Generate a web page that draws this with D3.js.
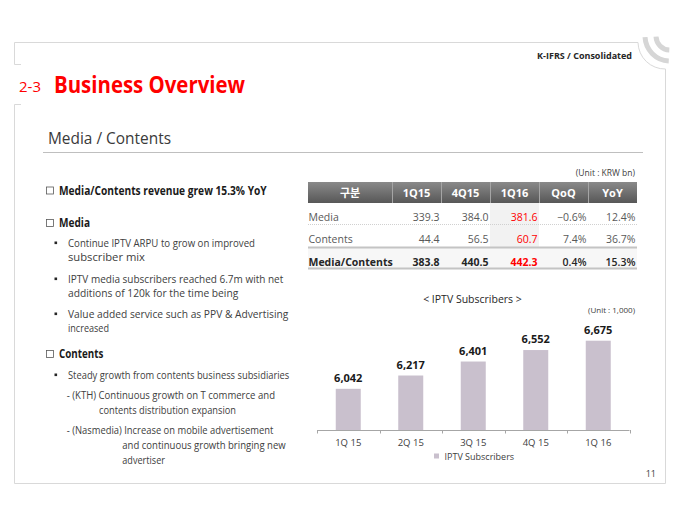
<!DOCTYPE html>
<html>
<head>
<meta charset="utf-8">
<script src="https://cdn.jsdelivr.net/npm/d3@7"></script>
<style>
  html, body { margin: 0; padding: 0; background: #fff; }
  svg { display: block; font-family: 'Open Sans', 'Noto Sans CJK KR', sans-serif; }
</style>
</head>
<body>
<svg id="chart" width="680" height="525"></svg>
<script>
// ---------- DATA ----------
const categories = ["1Q 15", "2Q 15", "3Q 15", "4Q 15", "1Q 16"];
const subscribers = [6042, 6217, 6401, 6552, 6675];
const seriesName = "IPTV Subscribers";

const tableHeaders = ["구분", "1Q15", "4Q15", "1Q16", "QoQ", "YoY"];
const rowLabels = ["Media", "Contents", "Media/Contents"];
const values1Q15 = [339.3, 44.4, 383.8];
const values4Q15 = [384.0, 56.5, 440.5];
const values1Q16 = [381.6, 60.7, 442.3];
const qoqValues = [-0.6, 7.4, 0.4];
const yoyValues = [12.4, 36.7, 15.3];

const bodyLines = [
  "Media/Contents revenue grew 15.3% YoY",
  "Media",
  "Continue IPTV ARPU to grow on improved",
  "subscriber mix",
  "IPTV media subscribers reached 6.7m with net",
  "additions of 120k for the time being",
  "Value added service such as PPV & Advertising",
  "increased",
  "Contents",
  "Steady growth from contents business subsidiaries",
  "- (KTH) Continuous growth on T commerce and",
  "contents distribution expansion",
  "- (Nasmedia) Increase on mobile advertisement",
  "and continuous growth bringing new",
  "advertiser"
];

// ---------- LAYOUT ----------
const svg = d3.select("#chart");
const frameColor = "#d9d9d9";
const textDark = "#404040";

svg.append("rect").attr("width", 680).attr("height", 525).attr("fill", "#fff");

// page frame
const frame = svg.append("g").attr("fill", "none").attr("stroke", frameColor).attr("stroke-width", 1);
frame.append("path").attr("d", "M14.5,64.5 L14.5,42.5 L638,42.5 A27,27 0 0 0 665.5,69 L665.5,483.5 L14.5,483.5 L14.5,104.5");
frame.append("path").attr("d", "M14.5,64.5 L21,64.5 M14.5,104.5 L21,104.5");
// decorative arcs top-right
const deco = svg.append("g").attr("fill", "none").attr("stroke", "#d6d6d6").attr("stroke-width", 5);
[14, 25].forEach(r => {
  const p = d3.path();
  p.arc(670, 36, r, Math.PI / 2 + 0.05, Math.PI - 0.05);
  deco.append("path").attr("d", p.toString());
});

// header texts
svg.append("text").attr("x", 632).attr("y", 58.5).attr("text-anchor", "end")
  .attr("font-size", 9).attr("font-weight", 700).attr("fill", "#262626").text("K-IFRS / Consolidated");
svg.append("text").attr("x", 19).attr("y", 92).attr("font-size", 15).attr("fill", "#ff0000").text("2-3");
svg.append("text").attr("x", 54).attr("y", 93).attr("font-size", 23).attr("font-weight", 700)
  .attr("fill", "#ff0000").attr("textLength", 191).attr("lengthAdjust", "spacingAndGlyphs").text("Business Overview");
svg.append("text").attr("x", 48).attr("y", 144).attr("font-size", 16.5).attr("fill", "#3a3a3a")
  .attr("textLength", 123).attr("lengthAdjust", "spacingAndGlyphs").text("Media / Contents");
svg.append("line").attr("x1", 43).attr("x2", 643).attr("y1", 152.5).attr("y2", 152.5)
  .attr("stroke", "#bfbfbf").attr("stroke-width", 1);

// left body text
const lineLayout = [
  {x: 59, y: 194.5, r: 266.7, bold: true, box: true},
  {x: 59, y: 227, r: 90, bold: true, box: true},
  {x: 68, y: 247, r: 255, bullet: true},
  {x: 68, y: 261, r: 145},
  {x: 68, y: 283, r: 283.3, bullet: true},
  {x: 68, y: 297, r: 238.3},
  {x: 68, y: 318, r: 288.3, bullet: true},
  {x: 68, y: 332, r: 109},
  {x: 59, y: 358, r: 103.3, bold: true, box: true},
  {x: 68, y: 379, r: 289.3, bullet: true},
  {x: 66.7, y: 399, r: 275},
  {x: 99, y: 414, r: 236},
  {x: 66.7, y: 434, r: 273.3},
  {x: 122.3, y: 449, r: 285.7},
  {x: 122.3, y: 464, r: 165}
];
const body = svg.append("g");
bodyLines.forEach((t, i) => {
  const L = lineLayout[i];
  body.append("text").attr("x", L.x).attr("y", L.y)
    .attr("font-size", L.bold ? 12 : 11)
    .attr("font-weight", L.bold ? 700 : 400)
    .attr("fill", L.bold ? "#1a1a1a" : textDark)
    .attr("textLength", L.r - L.x).attr("lengthAdjust", "spacingAndGlyphs")
    .text(t);
  if (L.box) {
    body.append("rect").attr("x", 46.5).attr("y", L.y - 7.5).attr("width", 7).attr("height", 7)
      .attr("fill", "none").attr("stroke", "#595959").attr("stroke-width", 0.8);
  }
  if (L.bullet) {
    body.append("rect").attr("x", 54.5).attr("y", L.y - 5.5).attr("width", 2.6).attr("height", 2.6)
      .attr("fill", "#262626");
  }
});

// ---------- TABLE ----------
const table = svg.append("g");
svg.append("text").attr("x", 635).attr("y", 176).attr("text-anchor", "end")
  .attr("font-size", 8.5).attr("fill", textDark).text("(Unit : KRW bn)");

const defs = svg.append("defs");
const grad = defs.append("linearGradient").attr("id", "hdr").attr("x1", 0).attr("y1", 0).attr("x2", 0).attr("y2", 1);
grad.append("stop").attr("offset", "0%").attr("stop-color", "#8a8a8a");
grad.append("stop").attr("offset", "100%").attr("stop-color", "#575757");

const colScale = d3.scaleBand().domain(tableHeaders.slice(1)).range([392, 637]).padding(0);
const colLeft = h => h === tableHeaders[0] ? 308 : colScale(h);
const colWidth = h => h === tableHeaders[0] ? 84 : colScale.bandwidth();

const hdrTop = 182, hdrBottom = 203;
table.append("rect").attr("x", 308).attr("y", hdrTop).attr("width", 329).attr("height", hdrBottom - hdrTop)
  .attr("fill", "url(#hdr)");
tableHeaders.slice(1).forEach(h => {
  table.append("line").attr("x1", colLeft(h) + 0.5).attr("x2", colLeft(h) + 0.5)
    .attr("y1", hdrTop).attr("y2", hdrBottom).attr("stroke", "#a5a5a5").attr("stroke-width", 1);
});
tableHeaders.forEach(h => {
  table.append("text").attr("x", colLeft(h) + colWidth(h) / 2).attr("y", 196.5)
    .attr("text-anchor", "middle").attr("font-size", 11).attr("font-weight", 700)
    .attr("fill", "#fff").text(h);
});

// 1Q16 column shading & total row
table.append("rect").attr("x", colScale("1Q16")).attr("y", hdrBottom).attr("width", colScale.bandwidth())
  .attr("height", 44).attr("fill", "#f2f2f2");
table.append("rect").attr("x", 308).attr("y", 248).attr("width", 329).attr("height", 20).attr("fill", "#f7f7f7");

const rowY = d3.scalePoint().domain(rowLabels).range([221, 265.5]);
table.append("line").attr("x1", 308).attr("x2", 637).attr("y1", 224.5).attr("y2", 224.5)
  .attr("stroke", "#d0d0d0").attr("stroke-dasharray", "1,1");
table.append("line").attr("x1", 308).attr("x2", 637).attr("y1", 247.5).attr("y2", 247.5)
  .attr("stroke", "#c4c4c4").attr("stroke-width", 2);
table.append("line").attr("x1", 308).attr("x2", 637).attr("y1", 268.5).attr("y2", 268.5)
  .attr("stroke", "#c4c4c4").attr("stroke-width", 2);

const fmt1 = d3.format(".1f");
const pct = v => d3.format(".1f")(v) + "%";
const columnData = [
  {h: "1Q15", vals: values1Q15, f: fmt1},
  {h: "4Q15", vals: values4Q15, f: fmt1},
  {h: "1Q16", vals: values1Q16, f: fmt1, red: true},
  {h: "QoQ", vals: qoqValues, f: pct},
  {h: "YoY", vals: yoyValues, f: pct}
];
rowLabels.forEach((r, i) => {
  const isTotal = i === rowLabels.length - 1;
  table.append("text").attr("x", 308.5).attr("y", rowY(r))
    .attr("font-size", 10.5).attr("font-weight", isTotal ? 700 : 400)
    .attr("fill", isTotal ? "#262626" : "#595959").text(r);
  columnData.forEach(c => {
    table.append("text").attr("x", colScale(c.h) + colScale.bandwidth() - 1.5).attr("y", rowY(r))
      .attr("text-anchor", "end").attr("font-size", 10.5)
      .attr("font-weight", isTotal && c.h !== "QoQ" && c.h !== "YoY" ? 700 : (isTotal ? 600 : 400))
      .attr("fill", c.red ? "#ff0000" : (isTotal ? "#262626" : "#595959"))
      .text(c.f(c.vals[i]));
  });
});

// ---------- BAR CHART ----------
const chart = svg.append("g");
chart.append("text").attr("x", 472.5).attr("y", 303).attr("text-anchor", "middle")
  .attr("font-size", 10.5).attr("fill", "#262626").text("< " + seriesName + " >");
chart.append("text").attr("x", 635).attr("y", 313).attr("text-anchor", "end")
  .attr("font-size", 8).attr("fill", textDark).text("(Unit : 1,000)");

const x = d3.scaleBand().domain(categories).range([317, 629.5]).paddingInner(0.6).paddingOuter(0.3);
const xBound = d3.scaleBand().domain(categories).range([317, 629.5]).padding(0);
const y = d3.scaleLinear().domain([5500, 7000]).range([430, 316]);
const barColor = "#c9c0cd";

chart.selectAll("rect.bar").data(subscribers).join("rect").attr("class", "bar")
  .attr("x", (d, i) => x(categories[i])).attr("width", x.bandwidth())
  .attr("y", d => y(d)).attr("height", d => y(5500) - y(d)).attr("fill", barColor);

chart.selectAll("text.val").data(subscribers).join("text").attr("class", "val")
  .attr("x", (d, i) => x(categories[i]) + x.bandwidth() / 2).attr("y", d => y(d) - 7)
  .attr("text-anchor", "middle").attr("font-size", 11).attr("font-weight", 700)
  .attr("fill", "#1a1a1a").text(d => d3.format(",")(d));

const axis = chart.append("g").attr("transform", "translate(0,430)")
  .call(d3.axisBottom(x).tickSize(0).tickPadding(9.7));
axis.select(".domain").attr("stroke", "#a6a6a6").attr("d", "M317,0.5H629.5");
axis.selectAll("text").attr("font-size", 9.5).attr("fill", textDark)
  .attr("font-family", "'Open Sans', sans-serif");
const bounds = categories.map(c => xBound(c)).concat([629.5]);
chart.selectAll("line.tk").data(bounds).join("line").attr("class", "tk")
  .attr("x1", d => Math.round(d) + 0.5).attr("x2", d => Math.round(d) + 0.5)
  .attr("y1", 430).attr("y2", 433.5).attr("stroke", "#a6a6a6");

// legend
chart.append("rect").attr("x", 434).attr("y", 453.5).attr("width", 5).attr("height", 5).attr("fill", barColor);
chart.append("text").attr("x", 444.5).attr("y", 460).attr("font-size", 9).attr("fill", textDark).text(seriesName);

// page number
svg.append("text").attr("x", 656).attr("y", 477).attr("text-anchor", "end")
  .attr("font-size", 9).attr("fill", textDark).text("11");
</script>
</body>
</html>
